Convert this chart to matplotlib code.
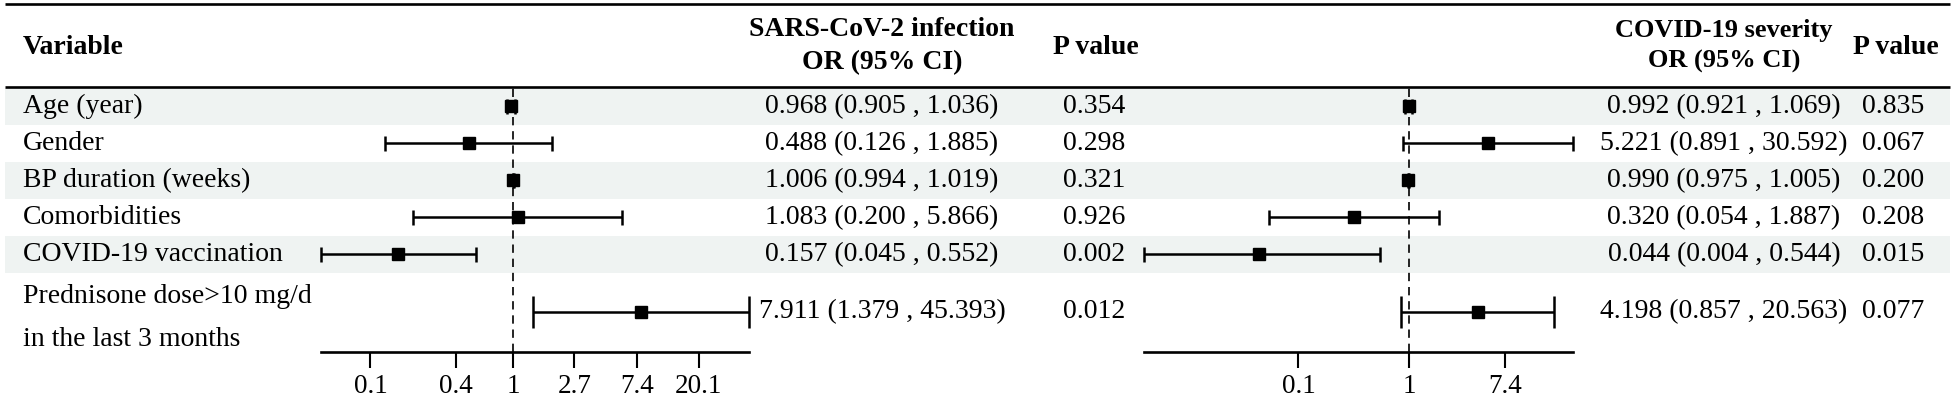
import matplotlib
matplotlib.use("Agg")
import matplotlib.pyplot as plt
from matplotlib.patches import Rectangle

# ---------------- data ----------------
variables = ["Age (year)", "Gender", "BP duration (weeks)", "Comorbidities",
             "COVID-19 vaccination", "Prednisone dose>10 mg/d\nin the last 3 months"]

inf_or = [0.968, 0.488, 1.006, 1.083, 0.157, 7.911]
inf_lo = [0.905, 0.126, 0.994, 0.200, 0.045, 1.379]
inf_hi = [1.036, 1.885, 1.019, 5.866, 0.552, 45.393]
inf_p = ["0.354", "0.298", "0.321", "0.926", "0.002", "0.012"]

sev_or = [0.992, 5.221, 0.990, 0.320, 0.044, 4.198]
sev_lo = [0.921, 0.891, 0.975, 0.054, 0.004, 0.857]
sev_hi = [1.069, 30.592, 1.005, 1.887, 0.544, 20.563]
sev_p = ["0.835", "0.067", "0.200", "0.208", "0.015", "0.077"]

inf_ticks = [0.1, 0.4, 1, 2.7, 7.4, 20.1]
inf_ticklabels = ["0.1", "0.4", "1", "2.7", "7.4", "20.1"]
sev_ticks = [0.1, 1, 7.4]
sev_ticklabels = ["0.1", "1", "7.4"]

col_headers = ["Variable", "SARS-CoV-2 infection\nOR (95% CI)", "P value",
               "COVID-19 severity\nOR (95% CI)", "P value"]

# ---------------- layout (pixels) ----------------
W, H, DPI = 1957, 399, 100
FONT = "Liberation Serif"
FS = 20
FS_HEAD = 20
FS_HEAD_R = 19
FS_TICK = 19.5
SHADE = "#eff3f2"

fig = plt.figure(figsize=(W / DPI, H / DPI), dpi=DPI)
bg = fig.add_axes([0, 0, 1, 1])
bg.set_xlim(0, W)
bg.set_ylim(H, 0)
bg.axis("off")

row_top0 = 88
row_heights = [37, 37, 37, 37, 37, 78]
row_tops = []
t = row_top0
for h in row_heights:
    row_tops.append(t)
    t += h
row_centers = [rt + h / 2 for rt, h in zip(row_tops, row_heights)]
axis_y = 352

table_x0, table_x1 = 5, 1950

# row shading
for i, (rt, h) in enumerate(zip(row_tops, row_heights)):
    if i % 2 == 0:
        bg.add_patch(Rectangle((table_x0, rt), table_x1 - table_x0, h,
                               facecolor=SHADE, edgecolor="none", zorder=0))

# header rules
bg.hlines([4, 87], table_x0, table_x1, color="black", lw=1.9, zorder=3)

# column positions
x_var = 23
x_inf_or = 882
x_inf_p_head, x_inf_p = 1096, 1094
x_sev_or = 1724
x_sev_p_head, x_sev_p = 1896, 1893

# headers
bg.text(x_var, 47, col_headers[0], ha="left", va="center", family=FONT,
        fontsize=FS_HEAD, fontweight="bold")
bg.text(x_inf_or, 46, col_headers[1], ha="center", va="center", family=FONT,
        fontsize=FS_HEAD, fontweight="bold", linespacing=1.4)
bg.text(x_inf_p_head, 48, col_headers[2], ha="center", va="center", family=FONT,
        fontsize=FS_HEAD, fontweight="bold")
bg.text(x_sev_or, 46, col_headers[3], ha="center", va="center", family=FONT,
        fontsize=FS_HEAD_R, fontweight="bold", linespacing=1.45)
bg.text(x_sev_p_head, 48, col_headers[4], ha="center", va="center", family=FONT,
        fontsize=FS_HEAD, fontweight="bold")

def fmt(o, l, h):
    return f"{o:.3f} ({l:.3f} , {h:.3f})"

for i, yc in enumerate(row_centers):
    ytxt = yc + (6 if "\n" in variables[i] else 0)
    bg.text(x_var, ytxt, variables[i], ha="left", va="center", family=FONT,
            fontsize=FS, linespacing=1.9)
    bg.text(x_inf_or, yc, fmt(inf_or[i], inf_lo[i], inf_hi[i]), ha="center",
            va="center", family=FONT, fontsize=FS)
    bg.text(x_inf_p, yc, inf_p[i], ha="center", va="center", family=FONT, fontsize=FS)
    bg.text(x_sev_or, yc, fmt(sev_or[i], sev_lo[i], sev_hi[i]), ha="center",
            va="center", family=FONT, fontsize=FS)
    bg.text(x_sev_p, yc, sev_p[i], ha="center", va="center", family=FONT, fontsize=FS)


def forest(x0, x1, est, lo, hi, ticks, ticklabels):
    ax = fig.add_axes([x0 / W, 1 - axis_y / H, (x1 - x0) / W, (axis_y - row_top0) / H])
    ax.patch.set_alpha(0)
    ax.set_xscale("log")
    ax.set_xlim(min(lo), max(hi))
    ax.set_ylim(axis_y, row_top0)
    for s in ("top", "left", "right"):
        ax.spines[s].set_visible(False)
    ax.spines["bottom"].set_linewidth(1.9)
    ax.axvline(1, color="black", lw=1.2, ls=(0, (5, 3.5)), zorder=1)
    ax.hlines(row_centers, lo, hi, color="black", lw=1.8, zorder=2, clip_on=False)
    half = [0.2 * h for h in row_heights]
    ax.vlines(lo, [c - d for c, d in zip(row_centers, half)],
              [c + d for c, d in zip(row_centers, half)], color="black", lw=1.8,
              zorder=2, clip_on=False)
    ax.vlines(hi, [c - d for c, d in zip(row_centers, half)],
              [c + d for c, d in zip(row_centers, half)], color="black", lw=1.8,
              zorder=2, clip_on=False)
    ax.plot(est, row_centers, "s", color="black", ms=9.2, zorder=3, clip_on=False)
    ax.minorticks_off()
    ax.set_xticks(ticks)
    ax.set_xticklabels(ticklabels, family=FONT, fontsize=FS_TICK)
    ax.tick_params(axis="x", direction="out", length=11.5, width=1.5, pad=4)
    ax.tick_params(axis="x", which="minor", length=0)
    ax.set_yticks([])
    return ax

forest(321, 749, inf_or, inf_lo, inf_hi, inf_ticks, inf_ticklabels)
forest(1144, 1573, sev_or, sev_lo, sev_hi, sev_ticks, sev_ticklabels)

fig.savefig("out.png", dpi=DPI, facecolor="white")
